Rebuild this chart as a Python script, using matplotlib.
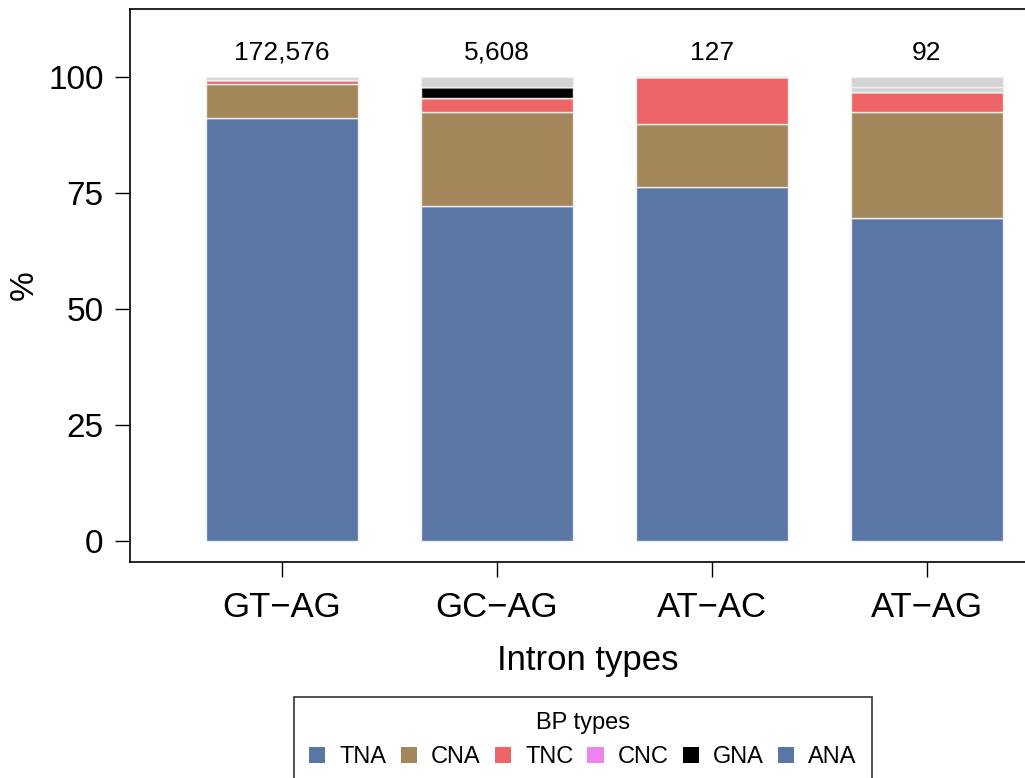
import matplotlib.pyplot as plt
from matplotlib.patches import Patch

plt.rcParams['font.family'] = ['Liberation Sans', 'DejaVu Sans']

intron_types = ['GT\u2212AG', 'GC\u2212AG', 'AT\u2212AC', 'AT\u2212AG']
totals = [172576, 5608, 127, 92]

# share (%) of each branch point type within every intron type
tna = [91.2, 72.2, 76.4, 69.6]
cna = [7.4, 20.3, 13.4, 22.8]
tnc = [0.7, 3.0, 10.2, 4.3]
cnc = [0.0, 0.0, 0.0, 0.0]
gna = [0.0, 2.3, 0.0, 0.0]
ana = [0.0, 0.0, 0.0, 0.0]
rest_a = [0.0, 0.0, 0.0, 1.1]
rest_b = [0.7, 2.2, 0.0, 2.2]

bp_labels = ['TNA', 'CNA', 'TNC', 'CNC', 'GNA', 'ANA']
bp_colors = ['#5a76a5', '#a3875a', '#ef6466', '#ee82ee', '#000000', '#5a76a5']
gray = '#d3d3d3'

series = [tna, cna, tnc, cnc, gna, ana, rest_a, rest_b]
colors = bp_colors + [gray, gray]

fig = plt.figure(figsize=(10.25, 7.78), dpi=100)
ax = fig.add_axes([130 / 1025, 216 / 778, 915 / 1025, 553 / 778])

x = [1, 2, 3, 4]
bottom = [0.0] * 4
for vals, col in zip(series, colors):
    ax.bar(x, vals, width=0.707, bottom=bottom, color=col,
           edgecolor='#eeeeee', linewidth=1)
    bottom = [b + v for b, v in zip(bottom, vals)]

for xi, n in zip(x, totals):
    ax.text(xi, 105.3, f'{n:,}', ha='center', va='center', fontsize=19)

ax.set_xlim(0.293, 4.549)
ax.set_ylim(-4.53, 114.7)
ax.set_xticks(x)
ax.set_xticklabels(intron_types, fontsize=25)
ax.set_yticks([0, 25, 50, 75, 100])
ax.tick_params(axis='y', labelsize=24, length=11, width=1, pad=8)
ax.tick_params(axis='x', length=11, width=1, pad=10)
ax.set_xlabel('Intron types', fontsize=25, labelpad=14)
ax.set_ylabel('%', fontsize=24, labelpad=6)
for s in ax.spines.values():
    s.set_linewidth(1.2)

handles = [Patch(facecolor=c, edgecolor='none') for c in bp_colors]
leg = fig.legend(handles, bp_labels, title='BP types', ncol=6,
                 loc='upper center', bbox_to_anchor=(583 / 1025, 1 - 697 / 778),
                 fontsize=17, title_fontsize=17, frameon=True, fancybox=False,
                 edgecolor='black', handlelength=0.68, handleheight=0.68,
                 handletextpad=0.6, columnspacing=0.6, borderpad=0.65,
                 borderaxespad=0)
leg.get_frame().set_linewidth(1.2)

fig.savefig('out.png', dpi=100)
